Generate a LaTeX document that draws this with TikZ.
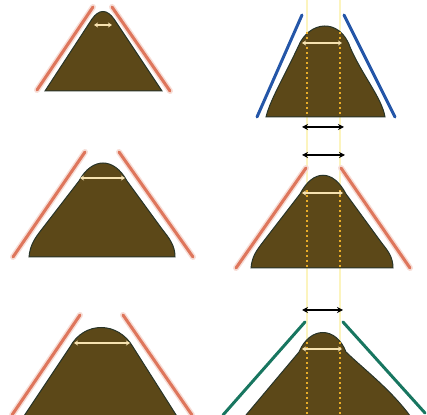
\documentclass[tikz,border=0pt]{standalone}
\usepackage{tikz}
\usetikzlibrary{arrows.meta,calc}
\definecolor{mound}{RGB}{92,72,24}
\definecolor{moundedge}{RGB}{40,52,40}
\definecolor{tanred}{RGB}{222,118,92}
\definecolor{tanblue}{RGB}{36,86,168}
\definecolor{tangreen}{RGB}{24,118,96}
\definecolor{pale}{RGB}{246,226,176}
\definecolor{guide}{RGB}{252,244,190}
\definecolor{dotor}{RGB}{232,172,40}
\tikzset{
  moundshape/.style={fill=mound, draw=moundedge, line width=0.5pt},
  tangent/.style={line width=1.5pt, line cap=round},
  halo/.style={line width=3pt, draw=tanred!25, line cap=round},
  guideline/.style={guide, line width=1pt},
  dotline/.style={dotor, line width=1pt, dash pattern=on 1.2pt off 1.3pt},
  widtharrow/.style={{Stealth[length=2pt,width=2.5pt]}-{Stealth[length=2pt,width=2.5pt]}, pale, line width=0.6pt},
  gaparrow/.style={{Stealth[length=3pt,width=3pt]}-{Stealth[length=3pt,width=3pt]}, black, line width=0.8pt}
}
\begin{document}
\begin{tikzpicture}[x=0.5pt, y=-0.5pt]
  \useasboundingbox (0,0) rectangle (427,415);
  \clip (0,0) rectangle (427,415);

  % Guide lines right column
  \draw[guideline] (307,0) -- (307,415);
  \draw[guideline] (340,0) -- (340,415);

  % Left column mounds
  \draw[moundshape] (45,91) -- (92,19) .. controls (99,9) and (107,9) .. (114,19) -- (162,91) -- cycle;
  \draw[moundshape] (29,257) .. controls (30,245) and (35,238) .. (42,229)
    -- (79,181) .. controls (92,157) and (114,157) .. (127,181)
    -- (162,229) .. controls (169,238) and (175,245) .. (175,257) -- cycle;
  \draw[moundshape] (8,440) -- (70,347)
    .. controls (84,321) and (118,321) .. (133,347) -- (192,440) -- cycle;

  % Right column mounds
  \draw[moundshape] (266,117) .. controls (270,100) and (285,75) .. (298,47)
    .. controls (309,20) and (340,18) .. (350,47)
    .. controls (362,75) and (382,98) .. (385,117) -- cycle;
  \draw[moundshape] (251,268) .. controls (252,256) and (257,250) .. (263,242)
    -- (300,194) .. controls (313,169) and (333,169) .. (346,194)
    -- (381,242) .. controls (387,250) and (393,256) .. (393,268) -- cycle;
  \draw[moundshape] (225,440) -- (299,352)
    .. controls (310,326) and (336,326) .. (346,352)
    .. controls (370,375) and (405,400) .. (425,440) -- cycle;

  % Dotted guides inside mounds
  \foreach \gx in {307,340}{
    \draw[dotline] (\gx,32) -- (\gx,116);
    \draw[dotline] (\gx,190) -- (\gx,267);
    \draw[dotline] (\gx,342) -- (\gx,415);
  }

  % Tangent lines
  \draw[halo] (37,90) -- (93,7);   \draw[tangent, tanred] (37,90) -- (93,7);
  \draw[halo] (112,7) -- (170,91); \draw[tangent, tanred] (112,7) -- (170,91);
  \draw[halo] (13,257) -- (85,152); \draw[tangent, tanred] (13,257) -- (85,152);
  \draw[halo] (119,152) -- (193,257); \draw[tangent, tanred] (119,152) -- (193,257);
  \draw[halo] (80,315) -- (12,415); \draw[tangent, tanred] (80,315) -- (12,415);
  \draw[halo] (123,315) -- (192,415); \draw[tangent, tanred] (123,315) -- (192,415);
  \draw[halo] (236,268) -- (306,168); \draw[tangent, tanred] (236,268) -- (306,168);
  \draw[halo] (341,168) -- (410,268); \draw[tangent, tanred] (341,168) -- (410,268);
  \draw[tangent, tanblue] (257,117) -- (302,15);
  \draw[tangent, tanblue] (344,15) -- (395,117);
  \draw[tangent, tangreen] (305,322) -- (223,415);
  \draw[tangent, tangreen] (343,322) -- (425,413);

  % Width arrows in mounds
  \coordinate (tl1) at (94,25);  \coordinate (tl2) at (112,25);
  \coordinate (ml1) at (80,178); \coordinate (ml2) at (125,178);
  \coordinate (bl1) at (74,343); \coordinate (bl2) at (130,343);
  \coordinate (tr1) at (302,43); \coordinate (tr2) at (342,43);
  \coordinate (mr1) at (302,193); \coordinate (mr2) at (343,193);
  \coordinate (br1) at (302,349); \coordinate (br2) at (342,349);
  \foreach \p in {tl,ml,bl,tr,mr,br}
    \draw[widtharrow] (\p1) -- (\p2);

  % Gap arrows between mounds
  \coordinate (g11) at (302,127); \coordinate (g12) at (344,127);
  \coordinate (g21) at (302,155); \coordinate (g22) at (345,155);
  \coordinate (g31) at (302,310); \coordinate (g32) at (343,310);
  \foreach \g in {g1,g2,g3}
    \draw[gaparrow] (\g1) -- (\g2);
\end{tikzpicture}
\end{document}
